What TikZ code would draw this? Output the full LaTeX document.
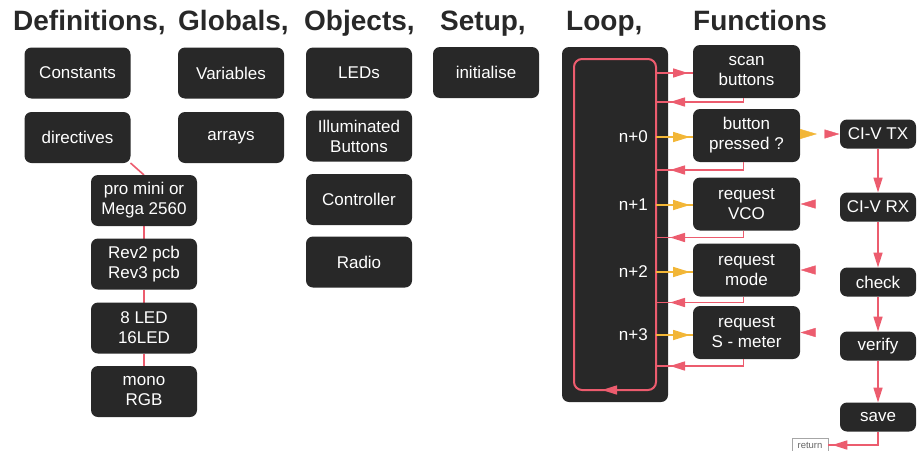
\documentclass[tikz,border=0pt]{standalone}
\usepackage{fontspec}
\setmainfont{Liberation Sans}
\usetikzlibrary{arrows.meta,decorations.markings,backgrounds,calc}

\definecolor{boxfill}{RGB}{40,40,40}
\definecolor{linkpink}{RGB}{236,92,110}
\definecolor{linkorange}{RGB}{242,182,55}
\definecolor{headcol}{RGB}{40,40,40}

\tikzset{
  pinktip/.tip={Triangle[length=15pt,width=9pt,color=linkpink]},
  orangetip/.tip={Triangle[length=17pt,width=10pt,color=linkorange]},
  blk/.style={draw=none, fill=boxfill, rounded corners=7pt, text=white,
    font=\fontsize{17}{20}\selectfont, align=center, inner sep=0pt, outer sep=0pt},
  defbox/.style={blk, minimum width=106pt, minimum height=51pt},
  funcbox/.style={blk, minimum width=107pt, minimum height=53pt},
  civbox/.style={blk, minimum width=76pt, minimum height=29pt},
  heading/.style={font=\fontsize{28}{30}\selectfont\bfseries, text=headcol,
    anchor=base west, inner sep=0pt},
  steplabel/.style={text=white, font=\fontsize{17}{20}\selectfont, anchor=east, inner sep=0pt},
  pinkline/.style={draw=linkpink, line width=1.6pt},
  orangeline/.style={draw=linkorange, line width=1.6pt},
  headat/.style 2 args={postaction={decorate},
    decoration={markings, mark=at position #1 with {\arrow{#2}}}},
  twoheads/.style={postaction={decorate},
    decoration={markings,
      mark=at position 17pt with {\arrow{orangetip}},
      mark=at position -0.5pt with {\arrow{pinktip}}}},
}

\begin{document}
\begin{tikzpicture}[x=1pt, y=-1pt]
\useasboundingbox (0,0) rectangle (921,450);

% column headings
\node[heading] at (13,30) {Definitions,};
\node[heading] at (178,30) {Globals,};
\node[heading] at (304,30) {Objects,};
\node[heading] at (440,30) {Setup,};
\node[heading] at (566,30) {Loop,};
\node[heading] at (693,30) {Functions};

% definitions
\node[defbox] (const) at (77.5,73) {Constants};
\node[defbox] (dir)   at (77.5,137.5) {directives};
\node[defbox] (pro)   at (144,200.5) {pro mini or\\Mega 2560};
\node[defbox] (rev)   at (144,264) {Rev2 pcb\\Rev3 pcb};
\node[defbox] (leds)  at (144,328) {8 LED\\16LED};
\node[defbox] (mono)  at (144,391.5) {mono\\RGB};

% globals
\node[defbox] (vars) at (231,73) {Variables};
\node[defbox] (arr)  at (231,137.5) {arrays};

% objects
\node[defbox] (ledobj) at (359,73) {LEDs};
\node[defbox] (illum)  at (359,136) {Illuminated\\Buttons};
\node[defbox] (ctrl)   at (359,199.5) {Controller};
\node[defbox] (radio)  at (359,262) {Radio};

% setup
\node[defbox] (init) at (486,72.5) {initialise};

% option chain under the directives
\begin{scope}[on background layer]
  \draw[pinkline] (dir.south east) -- (pro.north);
  \draw[pinkline] (pro.south) -- (rev.north);
  \draw[pinkline] (rev.south) -- (leds.north);
  \draw[pinkline] (leds.south) -- (mono.north);
\end{scope}

% loop panel with its cycle
\node[blk, minimum width=106pt, minimum height=355pt] (loop) at (615,224.5) {};
\node[draw=linkpink, line width=2pt, rounded corners=8pt, minimum width=82pt,
      minimum height=331pt, inner sep=0pt, outer sep=0pt] (loopin) at (615,224.5) {};
\draw[pinkline, -{pinktip}] (loopin.south) -- ++(-13,0);

\node[steplabel] (s0) at (648,137) {n+0};
\node[steplabel] (s1) at (648,205) {n+1};
\node[steplabel] (s2) at (648,272) {n+2};
\node[steplabel] (s3) at (648,335) {n+3};

% functions
\node[funcbox] (scan)    at (746.5,71.5) {scan\\buttons};
\node[funcbox] (pressed) at (746.5,135.5) {button\\pressed ?};
\node[funcbox] (vco)     at (746.5,204) {request\\VCO};
\node[funcbox] (mode)    at (746.5,270) {request\\mode};
\node[funcbox] (smeter)  at (746.5,332.5) {request\\S - meter};

% CI-V exchange
\node[civbox] (tx)     at (878,134) {CI-V TX};
\node[civbox] (rx)     at (878,207) {CI-V RX};
\node[civbox] (check)  at (878,282) {check};
\node[civbox] (verify) at (878,346) {verify};
\node[civbox] (save)   at (878,417) {save};
\node[draw=black!35, line width=0.5pt, fill=white, text=black!60,
      font=\fontsize{9.5}{10}\selectfont, minimum width=36pt, minimum height=13pt,
      inner sep=1pt] (ret) at (810,445) {return};

% loop calls into the functions
\draw[pinkline, headat={-5pt}{pinktip}] (loopin.east |- 0,73) -- (scan.west |- 0,73);
\draw[orangeline, headat={-3pt}{orangetip}] (loopin.east |- s0) -- (pressed.west |- s0);
\draw[orangeline, headat={-3pt}{orangetip}] (loopin.east |- s1) -- (vco.west |- s1);
\draw[orangeline, headat={-3pt}{orangetip}] (loopin.east |- s2) -- (mode.west |- s2);
\draw[orangeline, headat={-3pt}{orangetip}] (loopin.east |- s3) -- (smeter.west |- s3);

% returns back to the loop
\draw[pinkline, headat={-14pt}{pinktip}] ([xshift=-3pt]scan.south) |- ($(loopin.east |- scan.south)+(0,4)$);
\draw[pinkline, headat={-14pt}{pinktip}] ([xshift=-3pt]pressed.south) |- ($(loopin.east |- pressed.south)+(0,8)$);
\draw[pinkline, headat={-14pt}{pinktip}] ([xshift=-3pt]vco.south) |- ($(loopin.east |- vco.south)+(0,7)$);
\draw[pinkline, headat={-14pt}{pinktip}] ([xshift=-3pt]mode.south) |- ($(loopin.east |- mode.south)+(0,6)$);
\draw[pinkline, headat={-14pt}{pinktip}] ([xshift=-3pt]smeter.south) |- ($(loopin.east |- smeter.south)+(0,7)$);

% request to the radio and its replies
\path[twoheads] (pressed.east |- tx.west) -- (tx.west);
\coordinate (vcoin)    at ([xshift=19pt]vco.east);
\coordinate (modein)   at ([xshift=19pt]mode.east);
\coordinate (smeterin) at ([xshift=19pt]smeter.east);
\path[headat={-0.5pt}{pinktip}] (vcoin) -- (vco.east);
\path[headat={-0.5pt}{pinktip}] (modein) -- (mode.east);
\path[headat={-0.5pt}{pinktip}] (smeterin) -- (smeter.east);

\draw[pinkline, -{pinktip}] (tx) -- (rx);
\draw[pinkline, -{pinktip}] (rx) -- (check);
\draw[pinkline, -{pinktip}] (check) -- (verify);
\draw[pinkline, -{pinktip}] (verify) -- (save);
\draw[pinkline, headat={-4pt}{pinktip}] (save.south) |- (ret.east);
\end{tikzpicture}
\end{document}
